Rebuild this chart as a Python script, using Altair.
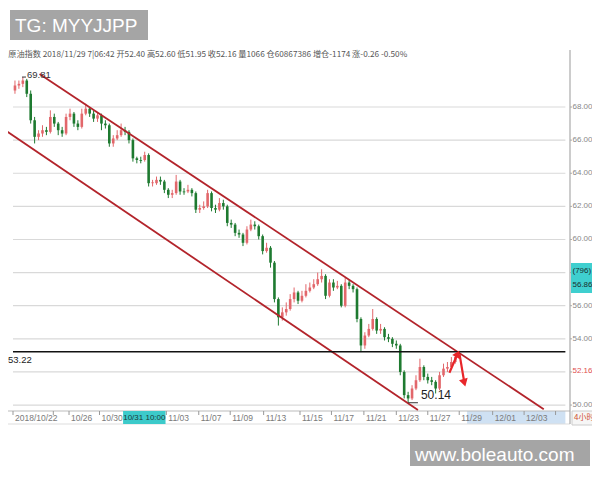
import altair as alt
import pandas as pd

# ---- data (4h candles, index = candle number) ----
opens = [69.0, 69.3, 69.4, 69.6, 68.8, 67.2, 66.2, 66.4, 66.6, 66.5, 67.4, 67.0, 66.6, 66.4, 67.4, 67.6, 67.0, 66.8, 67.6, 67.9,
         67.6, 67.3, 67.5, 67.0, 66.9, 65.8, 66.1, 66.3, 66.6, 66.5, 66.0, 64.9, 64.8, 64.8, 65.1, 63.4, 63.4, 63.6, 63.5, 63.0,
         62.7, 62.8, 63.5, 62.9, 62.9, 63.0, 62.8, 61.8, 61.9, 62.0, 62.8, 61.9, 61.8, 62.2, 62.0, 61.0, 60.9, 60.4, 60.3, 59.8,
         60.6, 60.9, 60.8, 60.2, 59.3, 59.5, 58.6, 56.4, 55.3, 55.6, 55.8, 56.4, 56.8, 56.3, 56.6, 56.9, 57.1, 57.3, 57.6, 57.8,
         56.6, 57.4, 57.1, 57.2, 56.0, 57.4, 57.2, 57.0, 55.2, 53.6, 54.2, 54.6, 55.2, 54.5, 54.6, 54.1, 54.0, 53.7, 53.6, 52.0,
         50.6, 50.4, 51.0, 51.5, 52.3, 51.7, 51.5, 51.4, 51.0, 51.8, 52.2, 52.3, 52.6, 52.9]
closes = [69.3, 69.4, 69.6, 68.8, 67.2, 66.2, 66.4, 66.6, 66.5, 67.4, 67.0, 66.6, 66.4, 67.4, 67.6, 67.0, 66.8, 67.6, 67.9, 67.6,
          67.3, 67.5, 67.0, 66.9, 65.8, 66.1, 66.3, 66.6, 66.5, 66.0, 64.9, 64.8, 64.75, 65.1, 63.4, 63.45, 63.6, 63.5, 63.0, 62.7,
          62.8, 63.5, 62.9, 62.85, 63.0, 62.8, 61.8, 61.9, 62.0, 62.8, 61.9, 61.8, 62.2, 62.0, 61.0, 60.9, 60.4, 60.3, 59.8, 60.6,
          60.9, 60.8, 60.2, 59.3, 59.5, 58.6, 56.4, 55.3, 55.6, 55.8, 56.4, 56.8, 56.3, 56.6, 56.9, 57.1, 57.3, 57.6, 57.8, 56.6,
          57.4, 57.1, 57.2, 56.0, 57.4, 57.2, 57.0, 55.2, 53.6, 54.2, 54.6, 55.2, 54.5, 54.6, 54.1, 54.0, 53.7, 53.6, 52.0, 50.6,
          50.4, 51.0, 51.5, 52.3, 51.7, 51.5, 51.4, 51.0, 51.8, 52.2, 52.3, 52.6, 52.9, 53.1]
highs = [69.6, 69.6, 69.81, 69.7, 69.0, 67.4, 66.6, 66.9, 66.8, 67.8, 67.6, 67.1, 66.8, 67.6, 67.9, 67.7, 67.2, 67.9, 68.2, 68.0,
         67.8, 67.7, 67.6, 67.2, 67.0, 66.3, 66.6, 67.0, 66.8, 66.6, 66.1, 65.0, 65.0, 65.3, 65.2, 63.6, 63.8, 63.8, 63.6, 63.1,
         63.0, 63.9, 63.6, 63.1, 63.3, 63.1, 62.9, 62.1, 62.3, 63.0, 62.9, 62.1, 62.5, 62.4, 62.1, 61.2, 61.0, 60.6, 60.4, 60.8,
         61.2, 61.1, 60.9, 60.3, 59.8, 59.6, 58.7, 56.5, 55.9, 56.2, 56.7, 57.1, 56.9, 56.9, 57.3, 57.4, 57.6, 58.0, 58.2, 57.9,
         57.6, 57.6, 57.5, 57.3, 57.7, 57.6, 57.3, 57.1, 55.3, 54.4, 54.9, 55.8, 55.3, 54.9, 54.7, 54.3, 54.1, 53.9, 53.7, 52.1,
         50.8, 51.2, 51.8, 52.8, 52.4, 51.9, 51.7, 51.5, 52.0, 52.5, 52.6, 52.9, 53.1, 53.22]
lows = [68.8, 69.1, 69.2, 68.6, 67.0, 65.8, 66.0, 66.2, 66.3, 66.4, 66.8, 66.3, 66.2, 66.3, 67.2, 66.8, 66.6, 66.7, 67.5, 67.4,
        67.1, 67.1, 66.6, 66.7, 65.6, 65.6, 66.0, 66.2, 66.3, 65.8, 64.7, 64.6, 64.6, 64.7, 63.2, 63.2, 63.3, 63.3, 62.8, 62.5,
        62.5, 62.7, 62.7, 62.7, 62.8, 62.6, 61.6, 61.6, 61.8, 61.9, 61.7, 61.6, 61.7, 61.8, 60.8, 60.7, 60.2, 60.1, 59.6, 59.7,
        60.5, 60.6, 60.0, 59.1, 59.2, 58.3, 56.2, 54.8, 55.1, 55.4, 55.7, 56.2, 56.1, 56.2, 56.5, 56.8, 57.0, 57.2, 57.4, 56.4,
        56.5, 56.9, 57.0, 55.9, 55.9, 57.0, 56.8, 55.0, 53.2, 53.4, 54.1, 54.5, 54.3, 54.3, 53.9, 53.8, 53.5, 53.4, 51.8, 50.4,
        50.14, 50.3, 50.9, 51.4, 51.5, 51.3, 51.2, 50.7, 50.9, 51.7, 52.0, 52.2, 52.5, 52.8]

grid_values = [50, 52, 54, 56, 58, 60, 62, 64, 66, 68]
axis_label_values = [50, 54, 56, 60, 62, 64, 66, 68]   # 52 and 58 are hidden by the price tags
tick_idx = [-0.5, 9.75, 13.75, 21.5, 38.5, 46.75, 54.75, 63.25, 72.5, 80.5, 88.75, 97, 105, 113, 121.5, 129.5, 137.5]
tick_labels = ["2018/10/22", "", "10/26", "10/30", "11/03", "11/07", "11/09", "11/13", "11/15", "11/17",
               "11/21", "11/23", "11/27", "11/29", "12/01", "12/03", ""]
upper_channel_x = [6.25, 134.5]
upper_channel_y = [70.0, 49.75]
lower_channel_x = [-2.5, 102.5]
lower_channel_y = [66.6, 49.7]
level_line = 53.22
arrow_up_x = [110.5, 112.6]
arrow_up_y = [51.95, 53.1]
arrow_dn_x = [113.1, 114.3]
arrow_dn_y = [53.05, 51.35]

# ---- tables ----
candles = pd.DataFrame({"i": list(range(len(closes))), "open": opens, "close": closes, "high": highs, "low": lows})
candles["dir"] = ["up" if c >= o else "down" for o, c in zip(opens, closes)]

W, H = 584, 458
xs = alt.Scale(domain=[-0.5, 145.5], nice=False, zero=False)
ys = alt.Scale(domain=[46.32, 73.98], nice=False, zero=False)
X = lambda f: alt.X(f, type="quantitative", scale=xs, axis=None)
Y = lambda f: alt.Y(f, type="quantitative", scale=ys, axis=None)
FONT = "Liberation Sans"


def px(v):  # page pixel -> chart pixel
    return alt.value(v - 8)


one = pd.DataFrame({"a": [0]})

grid_df = pd.DataFrame({"v": grid_values, "x0": -0.5, "x1": 140.0})
lab_df = pd.DataFrame({"v": axis_label_values, "lab": [f"{g:.2f}" for g in axis_label_values]})
grid = alt.Chart(grid_df).mark_rule(color="#d9d9d9", strokeWidth=1.2).encode(
    x=X("x0"), x2="x1", y=Y("v"))
rticks = alt.Chart(grid_df).mark_rule(color="#aaaaaa").encode(
    x=px(570), x2=px(572), y=Y("v"))
rlabels = alt.Chart(lab_df).mark_text(align="left", baseline="middle", fontSize=8,
                                      color="#888888", font=FONT).encode(
    x=px(572.5), y=Y("v"), text="lab:N")
raxis = alt.Chart(one).mark_rule(color="#aaaaaa", strokeWidth=1.2).encode(
    x=px(570), y=px(50), y2=px(424))

# x strip
strip_blue = alt.Chart(pd.DataFrame({"x0": [115.0], "x1": [140.0]})).mark_rect(color="#cfe1f3").encode(
    x=X("x0"), x2="x1", y=px(411), y2=px(424))
strip_top = alt.Chart(one).mark_rule(color="#bbbbbb").encode(x=px(0), x2=px(570), y=px(411))
strip_bot = alt.Chart(one).mark_rule(color="#dddddd").encode(x=px(0), x2=px(570), y=px(424))
tick_df = pd.DataFrame({"i": tick_idx, "lab": tick_labels})
xticks = alt.Chart(tick_df).mark_rule(color="#999999").encode(x=X("i"), y=px(411), y2=px(415))
xlabels = alt.Chart(tick_df).mark_text(align="left", baseline="middle", dx=2, fontSize=8.5,
                                       color="#7a7a7a", font=FONT).encode(
    x=X("i"), y=px(418), text="lab:N")
hl_df = pd.DataFrame({"x0": [27.5], "x1": [38.3], "xm": [32.9], "lab": ["10/31 10:00"]})
hl_box = alt.Chart(hl_df).mark_rect(color="#3ccaca").encode(x=X("x0"), x2="x1", y=px(411), y2=px(424))
hl_txt = alt.Chart(hl_df).mark_text(align="center", baseline="middle", fontSize=8,
                                    color="#1a3a3a", font=FONT).encode(
    x=X("xm"), y=px(418), text="lab:N")
hour_box = alt.Chart(one).mark_rect(color="#f6f6f6", stroke="#cccccc").encode(
    x=px(572), x2=px(600), y=px(411), y2=px(425))
hour_txt = alt.Chart(pd.DataFrame({"t": ["4小时"]})).mark_text(
    align="left", baseline="middle", fontSize=8, color="#d05030", font="Noto Sans CJK SC").encode(
    x=px(574), y=px(418), text="t:N")

# channel lines
ch_df = pd.DataFrame({"x": upper_channel_x + lower_channel_x, "y": upper_channel_y + lower_channel_y,
                      "g": ["u", "u", "l", "l"]})
channels = alt.Chart(ch_df).mark_line(color="#b3242b", strokeWidth=1.8, clip=True).encode(
    x=X("x"), y=Y("y"), detail="g:N")

level_df = pd.DataFrame({"v": [level_line], "x0": [-0.5], "x1": [140.0], "lab": [f"{level_line:.2f}"]})
level = alt.Chart(level_df).mark_rule(color="#111111", strokeWidth=1.6).encode(x=X("x0"), x2="x1", y=Y("v"))
level_lab = alt.Chart(level_df).mark_text(align="left", baseline="top", dy=3, fontSize=9.5,
                                          color="#222222", font=FONT).encode(
    x=px(8), y=Y("v"), text="lab:N")

# candles
cscale = alt.Scale(domain=["up", "down"], range=["#e2676b", "#1e7a30"])
wicks = alt.Chart(candles).mark_rule(strokeWidth=1).encode(
    x=X("i"), y=Y("low"), y2="high", color=alt.Color("dir:N", scale=cscale, legend=None))
bodies = alt.Chart(candles).mark_bar(size=2.6).encode(
    x=X("i"), y=Y("open"), y2="close", color=alt.Color("dir:N", scale=cscale, legend=None))

# extremes annotations
hi_i = highs.index(max(highs))
lo_i = lows.index(min(lows))
hi_df = pd.DataFrame({"i": [hi_i - 0.2], "i2": [hi_i + 0.8], "v": [max(highs)], "lab": [f"{max(highs):.2f}"]})
lo_df = pd.DataFrame({"i": [lo_i], "i2": [lo_i + 2.5], "v": [min(lows)], "lab": [f"{min(lows):.2f}"]})
hi_lead = alt.Chart(hi_df).mark_rule(color="#333333").encode(x=X("i"), x2="i2", y=Y("v"))
lo_lead = alt.Chart(lo_df).mark_rule(color="#333333").encode(x=X("i"), x2="i2", y=Y("v"))
hi_lab = alt.Chart(hi_df).mark_text(align="left", baseline="bottom", dx=1, dy=3, fontSize=9.5,
                                    color="#333333", font=FONT).encode(
    x=X("i2"), y=Y("v"), text="lab:N")
lo_lab = alt.Chart(lo_df).mark_text(align="left", baseline="bottom", dx=3, dy=-1, fontSize=12,
                                    color="#222222", font=FONT).encode(
    x=X("i2"), y=Y("v"), text="lab:N")

# arrows
arr_df = pd.DataFrame({"x": arrow_up_x + arrow_dn_x, "y": arrow_up_y + arrow_dn_y, "g": ["a", "a", "b", "b"]})
arrows = alt.Chart(arr_df).mark_line(color="#e8262a", strokeWidth=2.2).encode(
    x=X("x"), y=Y("y"), detail="g:N")
head_up = alt.Chart(pd.DataFrame({"x": [arrow_up_x[1]], "y": [arrow_up_y[1]]})).mark_point(
    shape="triangle-up", filled=True, color="#e8262a", size=70, angle=28, opacity=1).encode(x=X("x"), y=Y("y"))
head_dn = alt.Chart(pd.DataFrame({"x": [arrow_dn_x[1]], "y": [arrow_dn_y[1]]})).mark_point(
    shape="triangle-down", filled=True, color="#e8262a", size=80, angle=345, opacity=1).encode(x=X("x"), y=Y("y"))

# right side price tags
tag_box = alt.Chart(one).mark_rect(color="#3fcfcf").encode(x=px(571), x2=px(600), y=px(263), y2=px(293))
tag_txt = alt.Chart(pd.DataFrame({"t": ["(796)", "56.86"], "yy": [271 - 8, 285 - 8]})).mark_text(
    align="left", baseline="middle", fontSize=8, color="#1a3030", font=FONT).encode(
    x=px(572.5), y=alt.Y("yy:Q", scale=None), text="t:N")
last_txt = alt.Chart(pd.DataFrame({"t": ["52.16"]})).mark_text(
    align="left", baseline="middle", fontSize=8, color="#e05050", font=FONT).encode(
    x=px(572.5), y=px(371), text="t:N")

# header line
header = alt.Chart(pd.DataFrame({"t": ["美原油指数 2018/11/29 7|06:42 开52.40 高52.60 低51.95 收52.16 量1066 仓60867386 增仓-1174 涨-0.26 -0.50%"]})).mark_text(
    align="left", baseline="middle", fontSize=8.2, color="#555555", font="Noto Sans CJK SC").encode(
    x=px(0), y=px(55), text="t:N")

# watermarks
wm1_box = alt.Chart(one).mark_rect(color="#a5a5a5").encode(x=px(10), x2=px(148), y=px(10), y2=px(40))
wm1_txt = alt.Chart(pd.DataFrame({"t": ["TG: MYYJJPP"]})).mark_text(
    align="left", baseline="middle", fontSize=19, color="white", font=FONT).encode(
    x=px(15), y=px(26), text="t:N")
wm2_box = alt.Chart(one).mark_rect(color="#a5a5a5").encode(x=px(410), x2=px(590), y=px(440), y2=px(468))
wm2_txt = alt.Chart(pd.DataFrame({"t": ["www.boleauto.com"]})).mark_text(
    align="left", baseline="middle", fontSize=19, color="white", font=FONT).encode(
    x=px(415), y=px(455), text="t:N")

chart = alt.layer(
    grid, strip_blue, strip_top, strip_bot, xticks, xlabels, hl_box, hl_txt, hour_box, hour_txt,
    raxis, rticks, rlabels, wicks, bodies, channels, level, level_lab, hi_lead, lo_lead, hi_lab, lo_lab,
    arrows, head_up, head_dn, tag_box, tag_txt, last_txt, header, wm1_box, wm1_txt, wm2_box, wm2_txt
).properties(
    width=W, height=H, padding=0, autosize=alt.AutoSizeParams(type="none"), background="white"
).configure_view(stroke=None)

chart.save("out.html", embed_options={"renderer": "svg", "actions": False})
